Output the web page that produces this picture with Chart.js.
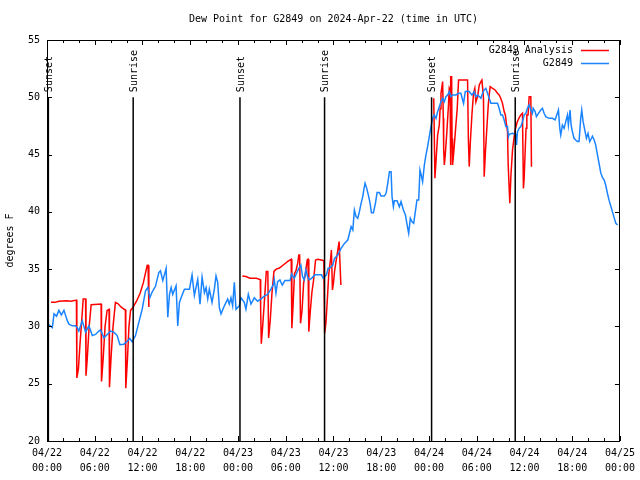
<!DOCTYPE html>
<html>
<head>
<meta charset="utf-8">
<script src="https://cdn.jsdelivr.net/npm/chart.js@4.4.1/dist/chart.umd.min.js"></script>
<style>
html,body{margin:0;padding:0;background:#fff;}
#wrap{width:640px;height:480px;}
</style>
</head>
<body>
<div id="wrap"><canvas id="c" width="640" height="480"></canvas></div>
<script>
const chartTitle = 'Dew Point for G2849 on 2024-Apr-22 (time in UTC)';
const yAxisTitle = 'degrees F';
const tickDates = ['04/22','04/22','04/22','04/22','04/23','04/23','04/23','04/23','04/24','04/24','04/24','04/24','04/25'];
const tickTimes = ['00:00','06:00','12:00','18:00','00:00','06:00','12:00','18:00','00:00','06:00','12:00','18:00','00:00'];
const seriesNames = ['G2849 Analysis','G2849'];

// hours since 04/22 00:00 UTC
const sunsetHours = [0.17, 24.25, 48.33];
const sunriseHours = [10.83, 34.88, 58.84];

const obsHours = [0.13,0.67,0.88,1.2,1.5,1.8,2.13,2.55,2.76,3.18,3.6,3.8,4.0,4.43,4.85,5.27,5.69,6.1,6.52,6.73,7.15,7.57,7.99,8.4,8.82,9.16,9.66,10.08,10.41,10.7,11.12,11.54,11.96,12.38,12.67,12.92,13.21,13.63,14.05,
14.26,14.55,14.97,15.18,15.39,15.6,15.8,16.22,16.43,16.64,16.85,17.27,17.9,18.23,18.52,18.94,19.23,19.49,19.78,19.99,20.2,20.4,20.74,21.03,21.24,21.45,21.66,21.87,22.29,22.7,22.91,23.12,23.33,23.54,23.75,24.17,24.38,24.79,25.0,25.3,25.63,26.05,26.47,26.89,27.3,27.72,28.14,28.48,
28.56,28.77,28.98,29.27,29.56,29.9,30.53,30.74,31.07,31.36,31.65,31.9,32.11,32.32,32.53,32.74,32.95,33.24,33.66,34.08,34.5,34.7,35.12,35.33,
35.5,35.92,36.13,36.55,36.96,37.38,37.8,38.01,38.22,38.43,38.63,38.84,39.05,39.26,39.47,39.68,39.81,39.97,40.18,40.43,40.6,40.77,41.02,41.27,41.48,41.77,41.98,42.4,42.61,42.82,43.03,43.24,43.36,43.53,43.66,43.99,44.28,44.49,44.79,45.04,45.33,45.45,45.66,45.87,46.08,46.29,46.49,46.71,46.87,
47.0,47.2,47.42,47.62,47.83,48.04,48.25,48.46,48.67,48.88,49.09,49.3,49.51,49.72,49.93,50.13,50.34,50.55,50.76,50.97,51.39,51.72,52.0,52.35,52.56,52.85,53.06,53.4,53.69,53.9,54.11,54.32,54.53,54.73,54.94,55.15,55.36,55.57,55.78,55.99,56.32,56.61,56.82,57.03,57.24,57.45,57.66,57.87,57.99,
58.08,58.5,58.92,59.0,59.12,59.33,59.54,59.75,59.96,60.17,60.38,60.59,60.8,61.0,61.09,61.34,61.5,61.76,62.05,62.26,62.47,62.68,63.1,63.52,63.85,64.06,64.27,64.44,64.56,64.77,64.98,65.19,65.4,65.52,65.73,65.86,66.02,66.23,66.44,66.65,66.86,67.07,67.2,67.37,67.62,67.79,67.99,68.2,68.41,68.54,68.75,68.96,69.17,69.38,69.59,69.8,70.01,70.22,70.43,70.64,70.85,71.06,71.27,71.48,71.7];
const obsValues = [30.2,29.9,31.1,30.9,31.4,31.0,31.4,30.5,30.2,30.05,30.05,29.9,29.6,30.5,29.5,30.05,29.2,29.3,29.6,29.7,29.0,29.3,29.6,29.5,29.2,28.4,28.45,28.7,28.95,28.65,29.2,30.35,31.5,33.1,33.4,32.5,33.0,33.5,34.7,
34.85,34.0,35.06,30.8,32.8,33.4,32.8,33.55,30.05,32.1,32.5,33.25,33.25,34.5,32.7,34.1,31.95,34.3,32.95,33.4,32.4,33.25,32.1,33.25,34.4,33.85,31.65,31.1,31.8,32.4,31.95,32.5,31.8,33.85,31.5,31.8,32.5,32.1,31.5,32.8,31.95,32.5,32.2,32.4,32.65,32.8,33.25,33.7,
34.06,32.9,33.9,34.06,33.6,34.0,34.0,34.58,34.2,34.64,35.07,35.37,34.35,34.06,34.93,34.35,34.06,34.2,34.5,34.5,34.5,34.2,34.5,35.07,
35.07,35.36,35.94,36.23,36.82,37.25,37.54,38.13,38.71,38.42,40.16,39.58,39.44,40.02,40.74,41.33,41.91,42.49,42.05,41.33,40.74,39.93,39.93,40.74,41.68,41.68,41.38,41.38,41.62,42.49,43.51,43.51,41.33,40.45,40.98,40.98,40.45,40.89,40.16,39.73,38.56,38.13,39.44,39.14,39.0,40.02,41.04,41.04,43.65,
43.3,42.64,44.09,44.96,45.69,46.56,47.44,48.17,48.46,48.17,48.75,49.18,49.62,49.91,49.62,50.06,50.2,50.49,50.06,50.2,50.2,50.35,50.35,49.47,50.49,50.55,50.49,50.2,50.49,50.06,50.2,50.06,49.91,50.35,50.64,50.78,50.35,49.91,49.47,49.47,49.47,49.47,49.04,48.46,48.46,48.02,47.44,47.44,46.56,
46.77,46.85,46.77,45.84,47.0,47.29,47.44,47.87,48.45,48.6,49.04,49.33,48.89,48.6,49.04,48.75,48.31,48.6,48.89,49.04,48.6,48.31,48.16,48.16,48.02,48.45,48.89,47.29,46.71,47.58,47.29,47.87,48.45,47.58,48.89,47.58,47.0,46.42,46.27,46.13,46.13,48.16,48.89,47.87,47.0,46.42,46.85,46.13,46.4,46.6,46.3,45.8,45.0,44.2,43.4,43.0,42.8,42.3,41.6,41.0,40.5,40.0,39.5,39.0,38.85];

const anaHours = [0.5,1.0,1.5,2.5,3.0,3.7,3.75,3.95,4.15,4.35,4.55,4.85,4.9,5.05,5.3,5.55,6.8,6.85,7.05,7.3,7.55,7.8,7.85,8.05,8.3,8.6,8.9,9.3,9.7,9.85,9.9,10.1,10.3,10.5,10.75,11.25,11.7,12.1,12.45,12.6,12.7,12.8,
18,
24.55,25.0,25.5,26.3,26.8,26.85,26.93,27.1,27.3,27.56,27.75,27.85,28.05,28.27,28.52,28.8,29.2,29.85,30.3,30.69,30.77,30.9,31.1,31.3,31.5,31.65,31.75,31.86,32.05,32.25,32.45,32.7,32.8,32.9,33.07,33.28,33.5,33.75,34.05,34.45,34.79,34.89,35.05,35.25,35.4,35.62,35.74,35.87,36.0,36.15,36.35,36.55,36.71,36.8,36.93,
42,
48.6,48.75,48.88,49.09,49.3,49.4,49.51,49.72,49.8,49.85,49.93,50.05,50.25,50.45,50.55,50.65,50.7,50.76,50.85,50.9,50.97,51.15,51.35,51.55,51.72,52.0,52.6,52.85,52.95,53.06,53.2,53.4,53.6,53.76,53.9,54.11,54.32,54.53,54.65,54.73,54.85,54.94,55.1,55.3,55.45,55.57,55.69,55.99,56.32,56.61,56.82,57.03,57.24,57.45,57.6,57.75,57.87,57.95,58.08,58.16,58.3,58.5,58.71,58.83,59.1,59.33,59.54,59.75,59.87,59.96,60.1,60.2,60.3,60.45,60.59,60.8,60.88];
const anaValues = [32.1,32.1,32.2,32.25,32.2,32.3,25.5,26.3,28.5,30.4,32.4,32.4,25.7,27.1,30.0,31.9,31.95,25.2,27.1,30.0,31.4,31.5,24.7,27.3,30.0,32.1,32.0,31.7,31.5,31.45,24.6,27.0,30.0,31.4,31.6,32.2,32.9,33.8,34.9,35.35,35.35,31.7,
null,
34.4,34.35,34.2,34.2,34.1,31.4,28.5,30.0,32.0,34.8,34.8,29.0,30.5,32.9,34.8,35.0,35.1,35.45,35.7,35.86,29.84,31.5,34.6,34.9,35.5,36.24,36.24,30.27,31.4,33.8,34.5,35.8,35.86,29.55,31.2,32.9,34.05,35.8,35.86,35.8,35.74,29.4,30.3,32.6,34.49,35.8,36.67,33.18,33.8,34.9,35.8,36.67,37.4,37.4,33.62,
null,
49.91,42.93,44.4,46.7,47.58,49.0,50.35,51.37,48.2,45.5,44.09,45.0,47.0,49.3,50.78,50.6,44.1,51.8,51.8,46.4,44.09,45.5,47.3,49.0,51.51,51.51,51.51,51.51,46.4,43.95,46.1,48.5,50.35,50.78,49.6,50.06,51.07,51.37,51.5,50.93,49.9,43.07,45.3,47.6,49.3,50.2,50.93,50.78,50.64,50.35,50.2,49.9,49.47,48.75,48.46,47.58,47.0,44.24,42.06,40.75,43.2,45.4,46.56,47.15,47.87,48.2,48.46,48.6,42.05,42.9,45.5,47.3,48.45,48.45,50.05,50.05,43.94];

const FONT = '"DejaVu Sans Mono", "Liberation Mono", monospace';
const RED = '#ff0000';
const BLUE = '#1a84ff';

function pts(xs, ys){ return xs.map((x,i)=>({x:x, y:ys[i]})); }

const sunDatasets = [];
sunsetHours.concat(sunriseHours).forEach(h=>{
  sunDatasets.push({data:[{x:h,y:20},{x:h,y:50}], borderColor:'#000', borderWidth:1.5, pointRadius:0});
});

const decor = {
  id:'decor',
  afterDraw(chart){
    const ctx = chart.ctx;
    const a = chart.chartArea;
    const xs = chart.scales.x, ys = chart.scales.y;
    ctx.save();
    ctx.strokeStyle = '#000';
    ctx.lineWidth = 1;
    ctx.strokeRect(Math.round(a.left)+0.5, Math.round(a.top)+0.5, Math.round(a.right-a.left)-1, Math.round(a.bottom-a.top));
    ctx.beginPath();
    for (let v = 20; v <= 55; v += 5){
      const y = Math.round(ys.getPixelForValue(v))+0.5;
      ctx.moveTo(a.left, y); ctx.lineTo(a.left+5, y);
      ctx.moveTo(a.right, y); ctx.lineTo(a.right-5, y);
    }
    for (let h = 0; h <= 72; h += 2){
      const x = Math.round(xs.getPixelForValue(h))+0.5;
      const len = (h % 6 === 0) ? 5 : 3;
      ctx.moveTo(x, a.bottom); ctx.lineTo(x, a.bottom-len);
      ctx.moveTo(x, a.top); ctx.lineTo(x, a.top+len);
    }
    ctx.stroke();

    ctx.fillStyle = '#000';
    ctx.font = '10px ' + FONT;
    ctx.textAlign = 'center'; ctx.textBaseline = 'middle';
    ctx.fillText(chartTitle, (a.left+a.right)/2, 19);
    ctx.save();
    ctx.translate(10, (a.top+a.bottom)/2);
    ctx.rotate(-Math.PI/2);
    ctx.fillText(yAxisTitle, 0, 0);
    ctx.restore();
    const yLab = ys.getPixelForValue(50.45);
    function lab(h, txt){
      ctx.save();
      ctx.translate(xs.getPixelForValue(h)+1, yLab);
      ctx.rotate(-Math.PI/2);
      ctx.textAlign = 'left'; ctx.textBaseline = 'middle';
      ctx.fillText(txt, 0, 0);
      ctx.restore();
    }
    sunsetHours.forEach(h=>lab(h,'Sunset'));
    sunriseHours.forEach(h=>lab(h,'Sunrise'));
    ctx.textAlign = 'right'; ctx.textBaseline = 'middle';
    const lx = a.right - 47;
    const cols = [RED, BLUE];
    seriesNames.forEach((n,i)=>{
      const y = a.top + 10 + i*13;
      ctx.fillStyle = '#000';
      ctx.fillText(n, lx, y);
      ctx.strokeStyle = cols[i];
      ctx.lineWidth = 1.5;
      ctx.beginPath();
      ctx.moveTo(a.right-39, Math.round(y)+0.5); ctx.lineTo(a.right-11, Math.round(y)+0.5);
      ctx.stroke();
    });
    ctx.restore();
  }
};

new Chart(document.getElementById('c'), {
  type:'line',
  data:{
    datasets: sunDatasets.concat([
      {label:seriesNames[1], data:pts(obsHours, obsValues), borderColor:BLUE, borderWidth:1.5, pointRadius:0, tension:0},
      {label:seriesNames[0], data:pts(anaHours, anaValues), borderColor:RED, borderWidth:1.5, pointRadius:0, tension:0, spanGaps:false}
    ])
  },
  options:{
    responsive:false,
    animation:false,
    events:[],
    layout:{padding:{top:40, right:19, left:0, bottom:0}},
    plugins:{legend:{display:false}, title:{display:false}, tooltip:{enabled:false}},
    scales:{
      x:{
        type:'linear', min:0, max:72,
        grid:{display:false, drawTicks:false},
        border:{display:false},
        ticks:{stepSize:6, autoSkip:false, maxRotation:0, minRotation:0, padding:5, color:'#000',
          font:{family:FONT, size:10, lineHeight:1.5},
          callback:(v,i)=>[tickDates[i], tickTimes[i]]},
        afterFit(s){ s.height = 39; }
      },
      y:{
        type:'linear', min:20, max:55,
        grid:{display:false, drawTicks:false},
        border:{display:false},
        ticks:{stepSize:5, padding:7, color:'#000', font:{family:FONT, size:10}},
        afterFit(s){ s.width = 47; }
      }
    }
  },
  plugins:[decor]
});
</script>
</body>
</html>
